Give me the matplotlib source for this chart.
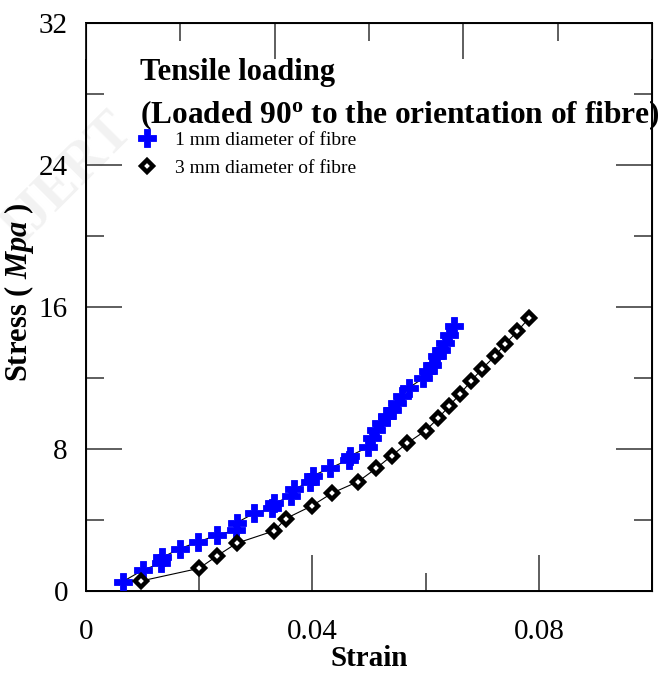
import numpy as np
import matplotlib
matplotlib.use('Agg')
import matplotlib.pyplot as plt
from matplotlib.lines import Line2D
from matplotlib.ticker import MultipleLocator

plt.rcParams['font.family'] = ['Liberation Serif', 'DejaVu Serif']
plt.rcParams['mathtext.fontset'] = 'custom'
plt.rcParams['mathtext.rm'] = 'Liberation Serif'
plt.rcParams['mathtext.it'] = 'Liberation Serif:italic:bold'
plt.rcParams['mathtext.bf'] = 'Liberation Serif:bold'

# 1 mm diameter of fibre
strain_1mm = [0.0065, 0.0101, 0.0132, 0.0135, 0.0166, 0.0198, 0.0231, 0.0265, 0.0267,
              0.0297, 0.0328, 0.0333, 0.0362, 0.0368, 0.0396, 0.0401, 0.0431, 0.0464,
              0.0467, 0.0498, 0.0505, 0.0513, 0.0522, 0.0531, 0.0540, 0.0549, 0.0558,
              0.0570, 0.0596, 0.0604, 0.0611, 0.0620, 0.0628, 0.0635, 0.0642, 0.0651]
stress_1mm = [0.53, 1.19, 1.56, 1.90, 2.39, 2.77, 3.14, 3.44, 3.86,
              4.38, 4.65, 4.95, 5.35, 5.75, 6.15, 6.50, 6.92, 7.40,
              7.62, 8.10, 8.62, 9.08, 9.46, 9.84, 10.20, 10.60, 10.97,
              11.44, 12.00, 12.38, 12.75, 13.22, 13.60, 13.98, 14.45, 14.92]

# 3 mm diameter of fibre
strain_3mm = [0.0098, 0.0200, 0.0232, 0.0266, 0.0333, 0.0353, 0.0399, 0.0435, 0.0481,
              0.0513, 0.0540, 0.0567, 0.0600, 0.0622, 0.0641, 0.0661, 0.0681, 0.0700,
              0.0722, 0.0741, 0.0762, 0.0783]
stress_3mm = [0.57, 1.28, 1.99, 2.69, 3.40, 4.08, 4.80, 5.52, 6.17,
              6.92, 7.62, 8.32, 9.04, 9.73, 10.40, 11.11, 11.85, 12.53,
              13.22, 13.94, 14.63, 15.39]

labels = ['1 mm diameter of fibre', '3 mm diameter of fibre']

fig = plt.figure(figsize=(6.65, 6.73), dpi=100)
ax = fig.add_axes([0.1293, 0.1218, 0.8512, 0.8440])

# faint watermark, kept underneath everything
fig.text(0.10, 0.735, 'IJERT', fontsize=40, color='#f2f2f2', rotation=45,
         ha='center', va='center', zorder=-5, fontweight='bold')
ax.patch.set_alpha(0)

ax.plot(strain_1mm, stress_1mm, color='black', lw=0.8, zorder=2)
ax.plot(strain_1mm, stress_1mm, ls='none', marker='P', ms=13, color='blue',
        mec='blue', mew=0.6, zorder=3)
ax.plot(strain_3mm, stress_3mm, color='black', lw=0.8, zorder=2)
ax.plot(strain_3mm, stress_3mm, ls='none', marker='D', ms=6.5, mfc='white',
        mec='black', mew=3.2, zorder=3)

ax.set_xlim(0, 0.1)
ax.set_ylim(0, 32)
ax.xaxis.set_major_locator(MultipleLocator(0.04))
ax.xaxis.set_minor_locator(MultipleLocator(0.02))
ax.yaxis.set_major_locator(MultipleLocator(8))
ax.yaxis.set_minor_locator(MultipleLocator(4))
ax.set_xticks([0, 0.04, 0.08])
ax.set_xticklabels(['0', '0.04', '0.08'])
ax.set_yticks([0, 8, 16, 24, 32])
ax.set_yticklabels(['0', '8', '16', '24', '32'])

ax.tick_params(which='both', direction='in', top=False, right=True,
               color='#333333', width=1.1, labelsize=21)
ax.tick_params(which='major', length=26)
ax.tick_params(which='minor', length=13)
ax.tick_params(axis='x', which='major', pad=20)
ax.tick_params(axis='y', which='major', pad=13)
for s in ax.spines.values():
    s.set_linewidth(1.4)

top = ax.twiny()
top.set_xlim(0, 0.12)
top.xaxis.set_major_locator(MultipleLocator(0.04))
top.xaxis.set_minor_locator(MultipleLocator(0.02))
top.tick_params(which='both', direction='in', labeltop=False, color='#333333', width=1.1)
top.tick_params(which='major', length=26)
top.tick_params(which='minor', length=13)

ax.set_xlabel('Strain', fontsize=21, fontweight='bold')
ax.xaxis.set_label_coords(0.5, -0.095)
ax.set_ylabel(r'Stress ( $Mpa$ )', fontsize=22, fontweight='bold')
ax.yaxis.set_label_coords(-0.088, 0.526)

fig.text(0.2105, 0.893, 'Tensile loading', fontsize=22, fontweight='bold',
         ha='left', va='center')
fig.text(0.2105, 0.829, r'(Loaded 90$^\mathbf{o}$ to the orientation of fibre)',
         fontsize=22.6, fontweight='bold', ha='left', va='center')

handles = [Line2D([], [], ls='none', marker='P', ms=13, color='blue', mew=0.6),
           Line2D([], [], ls='none', marker='D', ms=6.5, mfc='white', mec='black', mew=3.2)]
fig.legend(handles, labels, loc='upper left', bbox_to_anchor=(0.207, 0.805),
           frameon=False, fontsize=14, handlelength=1.0, handletextpad=0.9,
           labelspacing=0.55, borderpad=0, borderaxespad=0)

fig.savefig('out.png', dpi=100)
